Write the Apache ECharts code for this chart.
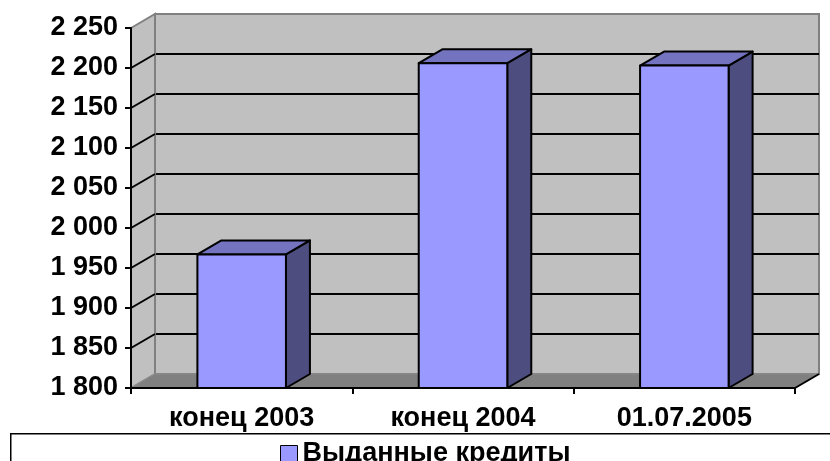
<!DOCTYPE html>
<html>
<head>
<meta charset="utf-8">
<script src="https://cdn.jsdelivr.net/npm/echarts@6/dist/echarts.min.js"></script>
<style>
html,body{margin:0;padding:0;background:#fff;}
#chart{width:830px;height:461px;}
</style>
</head>
<body>
<div id="chart"></div>
<script>
// ---- data ----
const categories = ['конец 2003', 'конец 2004', '01.07.2005'];
const values = [1967, 2206, 2203];
const seriesName = 'Выданные кредиты';
const yTicks = [1800, 1850, 1900, 1950, 2000, 2050, 2100, 2150, 2200, 2250];

// ---- style constants ----
const DX = 24, DY = -14;
const FONT = '"Liberation Sans", Arial, sans-serif';
const FS = 27;
const yMin = yTicks[0], yMax = yTicks[yTicks.length - 1], yStep = yTicks[1] - yTicks[0];

function fmt(v) { return String(v).replace(/\B(?=(\d{3})+(?!\d))/g, ' '); }

const chart = echarts.init(document.getElementById('chart'), null, {renderer: 'canvas'});

const option = {
  animation: false,
  backgroundColor: '#fff',
  grid: [
    {left: 131, top: 28, width: 664, height: 360, show: false},
    {left: 155, top: 14, width: 664, height: 360, show: true,
     backgroundColor: '#C0C0C0', borderColor: '#808080', borderWidth: 2}
  ],
  xAxis: [
    {type: 'category', gridIndex: 0, data: categories, z: 10,
     axisLine: {show: true, lineStyle: {color: '#000', width: 2}},
     axisTick: {show: true, length: 6, lineStyle: {color: '#000', width: 2}},
     axisLabel: {color: '#000', fontFamily: FONT, fontWeight: 'bold', fontSize: FS, margin: 17},
     splitLine: {show: false}},
    {type: 'category', gridIndex: 1, data: categories,
     axisLine: {show: false}, axisTick: {show: false}, axisLabel: {show: false}, splitLine: {show: false}}
  ],
  yAxis: [
    {type: 'value', gridIndex: 0, min: yMin, max: yMax, interval: yStep, z: 10,
     axisLine: {show: true, lineStyle: {color: '#000', width: 2}},
     axisTick: {show: true, length: 6, lineStyle: {color: '#000', width: 2}},
     axisLabel: {color: '#000', fontFamily: FONT, fontWeight: 'bold', fontSize: FS, margin: 13, formatter: fmt},
     splitLine: {show: false}},
    {type: 'value', gridIndex: 1, min: yMin, max: yMax, interval: yStep,
     axisLine: {show: false}, axisTick: {show: false}, axisLabel: {show: false},
     splitLine: {show: true, showMinLine: false, showMaxLine: false, lineStyle: {color: '#000', width: 2}}}
  ],
  legend: {
    left: 280, top: 440, padding: 0,
    itemWidth: 17, itemHeight: 16, icon: 'rect',
    textStyle: {color: '#000', fontFamily: FONT, fontWeight: 'bold', fontSize: FS},
    itemStyle: {borderColor: '#000', borderWidth: 1},
    data: [seriesName]
  },
  graphic: [
    {type: 'rect', left: 10, top: 433, z: -10,
     shape: {width: 840, height: 60},
     style: {fill: '#fff', stroke: '#000', lineWidth: 1.5}}
  ],
  series: [
    {
      // walls: left wall with its diagonal gridlines, and the floor
      type: 'custom', xAxisIndex: 0, yAxisIndex: 0, z: 1, silent: true,
      data: [[0, yMin]],
      renderItem: function (params, api) {
        const cs = params.coordSys;
        const x0 = cs.x, x1 = cs.x + cs.width;
        const yb = api.coord([0, yMin])[1];
        const yt = api.coord([0, yMax])[1];
        const children = [];
        children.push({type: 'polygon', shape: {points: [[x0, yt], [x0 + DX, yt + DY], [x0 + DX, yb + DY], [x0, yb]]},
          style: {fill: '#C0C0C0', stroke: '#808080', lineWidth: 2}});
        yTicks.forEach(function (v, i) {
          if (i === 0 || i === yTicks.length - 1) return;
          const y = api.coord([0, v])[1];
          children.push({type: 'line', shape: {x1: x0, y1: y, x2: x0 + DX, y2: y + DY},
            style: {stroke: '#000', lineWidth: 2}});
        });
        children.push({type: 'polygon', shape: {points: [[x0, yb], [x0 + DX, yb + DY], [x1 + DX, yb + DY], [x1, yb]]},
          style: {fill: '#808080', stroke: '#8c8c8c', lineWidth: 1}});
        children.push({type: 'line', shape: {x1: x1, y1: yb, x2: x1 + DX, y2: yb + DY},
          style: {stroke: '#000', lineWidth: 2}});
        return {type: 'group', children: children};
      }
    },
    {
      name: seriesName,
      type: 'custom', xAxisIndex: 0, yAxisIndex: 0, z: 3,
      itemStyle: {color: '#9999FF'},
      data: values.map(function (v, i) { return [i, v]; }),
      renderItem: function (params, api) {
        const top = api.coord([api.value(0), api.value(1)]);
        const base = api.coord([api.value(0), yMin]);
        const w = api.size([1, 0])[0] * 0.4;
        const xa = top[0] - w / 2, xb = top[0] + w / 2;
        const yt = top[1], yb = base[1];
        const st = {stroke: '#000', lineWidth: 2, lineJoin: 'round'};
        return {type: 'group', children: [
          {type: 'polygon', shape: {points: [[xb, yt], [xb + DX, yt + DY], [xb + DX, yb + DY], [xb, yb]]},
           style: Object.assign({fill: '#4D4D80'}, st)},
          {type: 'polygon', shape: {points: [[xa, yt], [xa + DX, yt + DY], [xb + DX, yt + DY], [xb, yt]]},
           style: Object.assign({fill: '#7373BF'}, st)},
          {type: 'rect', shape: {x: xa, y: yt, width: w, height: yb - yt},
           style: Object.assign({fill: '#9999FF'}, st)}
        ]};
      }
    }
  ]
};
chart.setOption(option);
</script>
</body>
</html>
